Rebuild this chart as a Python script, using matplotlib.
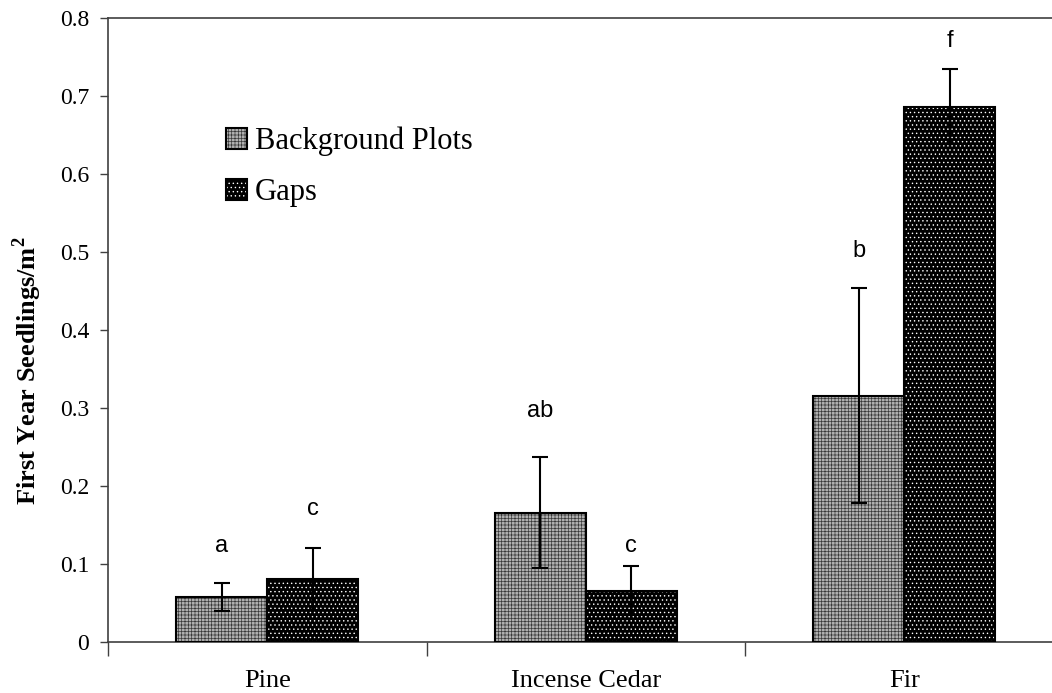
#!/usr/bin/env python3
"""
First year seedling density by species, background plots vs gaps
"""

import numpy as np
import matplotlib
matplotlib.use("Agg")
import matplotlib.pyplot as plt
from matplotlib.legend_handler import HandlerTuple

# data
species = ["Pine", "Incense Cedar", "Fir"]
background = [0.058, 0.166, 0.316]
background_err = [0.018, 0.071, 0.138]
gaps = [0.081, 0.066, 0.686]
gaps_err = [0.040, 0.031, 0.048]
bg_letters = ["a", "ab", "b"]
gap_letters = ["c", "c", "f"]
bg_letter_y = [0.123, 0.296, 0.501]
gap_letter_y = [0.171, 0.123, 0.770]
y_ticks = [0, 0.1, 0.2, 0.3, 0.4, 0.5, 0.6, 0.7, 0.8]

plt.rcParams["font.family"] = ["Liberation Serif", "DejaVu Serif"]
plt.rcParams["hatch.linewidth"] = 0.5

fig = plt.figure(figsize=(10.52, 6.93), dpi=100)
# the plot area runs past the right edge of the picture, like the original
ax = fig.add_axes([108 / 1052, 51 / 693, 955.5 / 1052, 624 / 693])

x = np.arange(len(species)) + 0.5
w = 0.286

# background plots: fine grey checker
bg_fill = ax.bar(x - w, background, w, align="edge", color="#b0b0b0",
                 edgecolor="#383838", hatch="+++++", linewidth=0, zorder=2)
bg_edge = ax.bar(x - w, background, w, align="edge", fill=False,
                 edgecolor="black", linewidth=1.5, zorder=3)
# gaps: black with white dots
gp_fill = ax.bar(x, gaps, w, align="edge", color="black",
                 edgecolor="white", hatch="....", linewidth=0, zorder=2)
gp_edge = ax.bar(x, gaps, w, align="edge", fill=False,
                 edgecolor="black", linewidth=1.5, zorder=3)

ax.errorbar(x - w / 2, background, yerr=background_err, fmt="none",
            ecolor="black", elinewidth=1.5, capsize=5.5, capthick=1.5, zorder=4)
ax.errorbar(x + w / 2, gaps, yerr=gaps_err, fmt="none",
            ecolor="black", elinewidth=1.5, capsize=5.5, capthick=1.5, zorder=4)

for xi, lab, yy in zip(x - w / 2, bg_letters, bg_letter_y):
    ax.text(xi, yy, lab, ha="center", va="center", fontsize=17,
            family="Liberation Sans")
for xi, lab, yy in zip(x + w / 2, gap_letters, gap_letter_y):
    ax.text(xi, yy, lab, ha="center", va="center", fontsize=17,
            family="Liberation Sans")

ax.set_xlim(0, 3)
ax.set_ylim(0, 0.8)
ax.set_yticks(y_ticks)
ax.set_yticklabels(["%g" % t for t in y_ticks])
ax.set_xticks([0, 1, 2, 3])
ax.set_xticklabels([])
ax.set_xticks(x, minor=True)
ax.set_xticklabels(species, minor=True)
ax.tick_params(axis="x", which="major", direction="out", length=10, width=1,
               color="#404040")
ax.tick_params(axis="x", which="minor", length=0, pad=20.5, labelsize=19)
ax.tick_params(axis="y", direction="out", length=6, width=1, color="#404040",
               labelsize=17, pad=7.5)
for s in ax.spines.values():
    s.set_color("#404040")
    s.set_linewidth(1.2)

ax.set_ylabel("First Year Seedlings/m$^\\mathregular{2}$", fontsize=19,
              fontweight="bold")
ax.yaxis.set_label_coords(-0.067, 0.435)

handles = [(bg_fill[0], bg_edge[0]), (gp_fill[0], gp_edge[0])]
ax.legend(handles, ["Background Plots", "Gaps"],
          handler_map={tuple: HandlerTuple(ndivide=1, pad=0)},
          loc="upper left", bbox_to_anchor=(226 / 1052, 1 - 127 / 693),
          bbox_transform=fig.transFigure, frameon=False, fontsize=22,
          handlelength=0.69, handleheight=0.66, handletextpad=0.25,
          labelspacing=0.71, borderpad=0, borderaxespad=0)

fig.savefig("out.png", dpi=100)
